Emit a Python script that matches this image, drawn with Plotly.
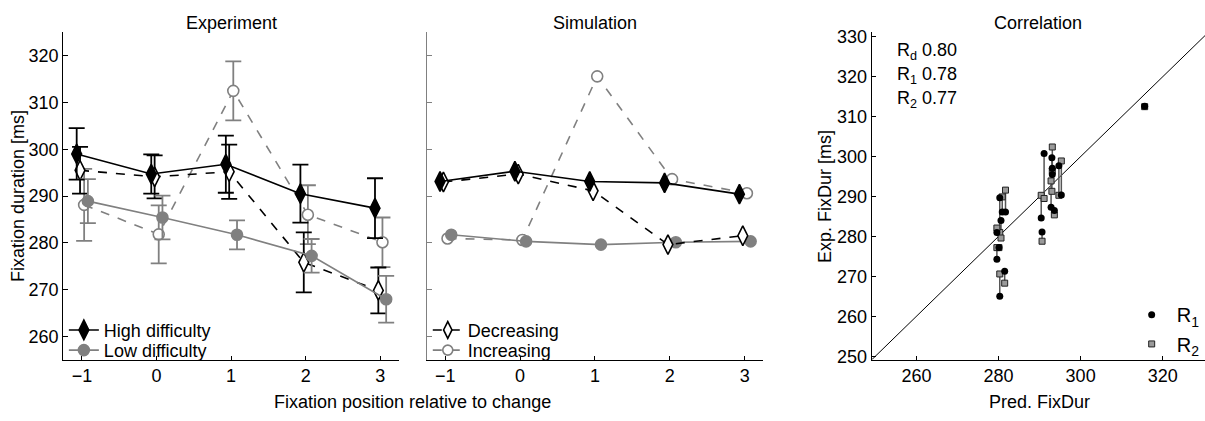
import plotly.graph_objects as go

positions = [-1, 0, 1, 2, 3]

# Experiment: mean fixation durations and error bar half-lengths [ms]
exp_high = [299.0, 294.7, 296.8, 290.5, 287.4]
exp_high_err = [5.5, 4.2, 6.1, 6.2, 6.4]
exp_low = [288.9, 285.4, 281.7, 277.2, 267.9]
exp_low_err = [4.7, 4.7, 3.1, 3.6, 5.0]
exp_dec = [295.5, 294.1, 295.2, 275.8, 269.8]
exp_dec_err = [5.0, 4.6, 5.8, 6.4, 4.9]
exp_inc = [288.1, 281.8, 312.5, 286.0, 280.1]
exp_inc_err = [7.7, 6.2, 6.3, 6.3, 5.3]

# Simulation: predicted fixation durations [ms]
sim_high = [293.1, 295.3, 293.1, 292.8, 290.4]
sim_low = [281.7, 280.3, 279.6, 280.1, 280.3]
sim_dec = [293.0, 294.7, 291.1, 279.6, 281.5]
sim_inc = [280.9, 280.6, 315.6, 293.6, 290.6]

# Correlation: experimental durations of the two runs per condition
# (order: high, low, decreasing, increasing; positions -1..3)
run1 = [295.5, 290.4, 297.1, 287.3, 284.6,
        286.1, 289.7, 281.0, 277.2, 265.0,
        299.7, 297.7, 300.8, 274.3, 271.3,
        286.1, 284.0, 312.6, 286.5, 281.1]
run2 = [302.4, 298.9, 296.4, 293.9, 290.3,
        291.6, 281.0, 282.1, 277.2, 270.6,
        291.3, 290.3, 289.5, 277.2, 268.3,
        289.9, 279.6, 312.5, 285.4, 278.8]
corr_labels = ["R<sub>d</sub> 0.80", "R<sub>1</sub> 0.78", "R<sub>2</sub> 0.77"]

BLACK = "#000000"
GRAY = "#808080"
FONT = "Liberation Sans, Arial, sans-serif"
FS = 18

# horizontal jitter per series so the markers do not overlap
shift = {"high": -0.07, "dec": -0.025, "inc": 0.03, "low": 0.08}

styles = {
    "high": dict(name="High difficulty", color=BLACK, dash="solid", symbol="diamond-tall", fill=True),
    "low": dict(name="Low difficulty", color=GRAY, dash="solid", symbol="circle", fill=True),
    "dec": dict(name="Decreasing", color=BLACK, dash="dash", symbol="diamond-tall", fill=False),
    "inc": dict(name="Increasing", color=GRAY, dash="dash", symbol="circle", fill=False),
}
# one single-entry legend per series so each row can be placed freely
legend_of = {"high": "legend", "low": "legend2", "dec": "legend3", "inc": "legend4"}

fig = go.Figure()


def series_marker(st, size=None):
    if size is None:
        size = 14 if "diamond" in st["symbol"] else 11
    return dict(symbol=st["symbol"], size=size,
                color=st["color"] if st["fill"] else "white",
                line=dict(color=st["color"], width=1.6))


def add_series(key, values, err, xaxis, yaxis, showlegend):
    st = styles[key]
    xs = [p + shift[key] for p in positions]
    tr = go.Scatter(
        x=xs, y=values, mode="lines+markers", name=st["name"],
        xaxis=xaxis, yaxis=yaxis, legend=legend_of[key], showlegend=showlegend,
        line=dict(color=st["color"], width=1.6, dash=st["dash"]),
        marker=series_marker(st),
    )
    if err is not None:
        tr.error_y = dict(type="data", array=err, visible=True, color=st["color"],
                          thickness=1.8, width=8)
    fig.add_trace(tr)


# Experiment panel
add_series("inc", exp_inc, exp_inc_err, "x", "y", False)
add_series("dec", exp_dec, exp_dec_err, "x", "y", False)
add_series("low", exp_low, exp_low_err, "x", "y", True)
add_series("high", exp_high, exp_high_err, "x", "y", True)

# Simulation panel
add_series("inc", sim_inc, None, "x2", "y2", False)
add_series("low", sim_low, None, "x2", "y2", False)
add_series("dec", sim_dec, None, "x2", "y2", False)
add_series("high", sim_high, None, "x2", "y2", False)

# legend entries for the simulation panel
for key in ["dec", "inc"]:
    st = styles[key]
    fig.add_trace(go.Scatter(
        x=[None], y=[None], mode="lines+markers", name=st["name"],
        xaxis="x2", yaxis="y2", legend=legend_of[key], showlegend=True,
        line=dict(color=st["color"], width=1.6, dash=st["dash"]),
        marker=series_marker(st, 12 if key == "dec" else 10),
    ))

# Correlation panel
pred = sim_high + sim_low + sim_dec + sim_inc
lx, ly = [], []
for p, a, b in zip(pred, run1, run2):
    lx += [p, p, None]
    ly += [a, b, None]

fig.add_trace(go.Scatter(x=[249.1, 331.0], y=[249.1, 331.0], mode="lines",
                         line=dict(color=BLACK, width=1), xaxis="x3", yaxis="y3",
                         showlegend=False, hoverinfo="skip"))
fig.add_trace(go.Scatter(x=lx, y=ly, mode="lines", line=dict(color="#555555", width=1.5),
                         xaxis="x3", yaxis="y3", showlegend=False, hoverinfo="skip"))
fig.add_trace(go.Scatter(x=pred, y=run2, mode="markers", name="R<sub>2</sub>",
                         marker=dict(symbol="square", size=6, color="#9a9a9a",
                                     line=dict(color="#222222", width=1)),
                         xaxis="x3", yaxis="y3", legend="legend6"))
fig.add_trace(go.Scatter(x=pred, y=run1, mode="markers", name="R<sub>1</sub>",
                         marker=dict(symbol="circle", size=7, color=BLACK),
                         xaxis="x3", yaxis="y3", legend="legend5"))

tickfont = dict(family=FONT, size=FS, color=BLACK)

common_x = dict(range=[-1.25, 3.25], tickvals=positions, ticks="inside", ticklen=4,
                tickcolor=BLACK, showline=True, linecolor=BLACK, linewidth=1.2,
                showgrid=False, zeroline=False, tickfont=tickfont)
common_y = dict(range=[255, 325], tickvals=[260, 270, 280, 290, 300, 310, 320],
                ticks="inside", ticklen=5, showgrid=False, zeroline=False, showline=True,
                tickfont=tickfont, linewidth=1.2)


def legend_box(x, y, size=FS, itemwidth=30):
    return dict(x=x, y=y, xanchor="left", yanchor="top", bgcolor="rgba(0,0,0,0)",
                font=dict(family=FONT, size=size), itemwidth=itemwidth)


fig.update_layout(
    width=1205, height=421,
    margin=dict(l=0, r=0, t=0, b=0),
    paper_bgcolor="white", plot_bgcolor="white",
    font=dict(family=FONT, size=FS, color=BLACK),
    xaxis=dict(domain=[0.0525, 0.331], anchor="y", **common_x),
    yaxis=dict(domain=[0.133, 0.933], anchor="x", linecolor=BLACK, tickcolor=BLACK, **common_y),
    xaxis2=dict(domain=[0.354, 0.6335], anchor="y2", **common_x),
    yaxis2=dict(domain=[0.133, 0.933], anchor="x2", linecolor=GRAY, tickcolor=GRAY,
                showticklabels=False, **common_y),
    xaxis3=dict(domain=[0.7234, 1.0], anchor="y3", range=[249.1, 330.3],
                tickvals=[260, 280, 300, 320], ticks="inside", ticklen=4, tickcolor=BLACK,
                showline=True, linecolor=BLACK, linewidth=1.2, showgrid=False,
                zeroline=False, tickfont=tickfont),
    yaxis3=dict(domain=[0.133, 0.933], anchor="x3", range=[249.15, 331.1],
                tickvals=[250, 260, 270, 280, 290, 300, 310, 320, 330], ticks="inside",
                ticklen=4, tickcolor=BLACK, showline=True, linecolor=BLACK, linewidth=1.2,
                showgrid=False, zeroline=False, tickfont=tickfont),
    legend=legend_box(0.053, 0.25),
    legend2=legend_box(0.053, 0.2007),
    legend3=legend_box(0.355, 0.25),
    legend4=legend_box(0.355, 0.2007),
    legend5=legend_box(0.935, 0.2905, size=20, itemwidth=40),
    legend6=legend_box(0.935, 0.219, size=20, itemwidth=40),
    showlegend=True,
)

annotations = [
    dict(text="Experiment", x=0.1918, y=0.957, xref="paper", yref="paper",
         xanchor="center", yanchor="middle", showarrow=False),
    dict(text="Simulation", x=0.4938, y=0.957, xref="paper", yref="paper",
         xanchor="center", yanchor="middle", showarrow=False),
    dict(text="Correlation", x=0.8617, y=0.957, xref="paper", yref="paper",
         xanchor="center", yanchor="middle", showarrow=False),
    dict(text="Fixation position relative to change", x=0.342, y=0.0285, xref="paper",
         yref="paper", xanchor="center", yanchor="middle", showarrow=False),
    dict(text="Pred. FixDur", x=0.863, y=0.0285, xref="paper", yref="paper",
         xanchor="center", yanchor="middle", showarrow=False),
    dict(text="Fixation duration [ms]", x=0.015, y=0.533, xref="paper", yref="paper",
         xanchor="center", yanchor="middle", textangle=-90, showarrow=False),
    dict(text="Exp. FixDur [ms]", x=0.6846, y=0.533, xref="paper", yref="paper",
         xanchor="center", yanchor="middle", textangle=-90, showarrow=False),
]
for i, txt in enumerate(corr_labels):
    annotations.append(dict(text=txt, x=0.743, y=0.886 - i * 0.0585, xref="paper", yref="paper",
                            xanchor="left", yanchor="middle", showarrow=False))
fig.update_layout(annotations=annotations)

fig.write_html("out.html")
